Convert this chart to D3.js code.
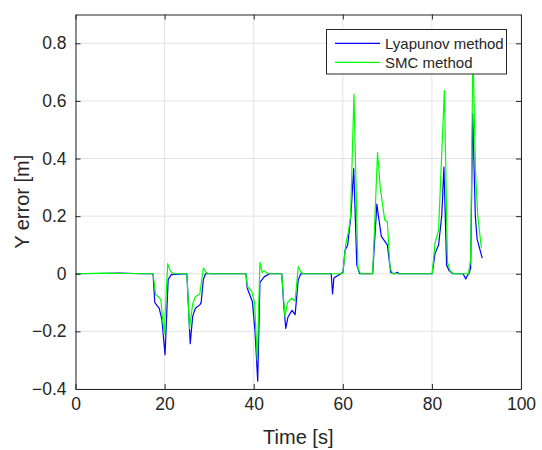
<!DOCTYPE html>
<html>
<head>
<meta charset="utf-8">
<script src="https://cdn.jsdelivr.net/npm/d3@7"></script>
<style>
  body { margin: 0; background: #fff; }
  svg { font-family: "Liberation Sans", Arial, sans-serif; }
</style>
</head>
<body>
<div id="chart"></div>
<script>
// time [s] and Y error [m]
const lyapTime = [0, 5, 10, 15, 17.4, 17.8, 18.8, 19.4, 20.1, 20.8, 21.5, 25.0, 25.75, 26.3, 26.9, 27.9, 28.2, 28.7, 29.2,
  38.25, 38.55, 39.7, 40.3, 40.9, 41.4, 42.4, 43.6, 46.3, 46.7, 47.2, 47.7, 48.6, 49.3, 50.0, 50.6,
  57.4, 57.7, 58.0, 59.5, 60.05, 60.5, 61.1, 61.8, 62.45, 63.15, 63.8, 66.7, 67.65, 68.0, 68.65, 69.6, 70.0, 70.75, 71.5, 72.3, 72.6,
  80.06, 80.7, 81.5, 82.2, 82.7, 83.3, 83.9, 84.7, 87.0, 87.6, 88.0, 88.3, 88.7, 89.15, 89.75, 90.15, 90.5, 91.3];
const lyapError = [0, 0.001, 0.002, 0, 0, -0.10, -0.12, -0.16, -0.281, -0.02, -0.003, 0, -0.243, -0.148, -0.12, -0.108, -0.10, -0.02, 0,
  0, -0.05, -0.096, -0.2, -0.373, -0.03, -0.01, 0, 0, -0.1, -0.19, -0.15, -0.127, -0.142, -0.02, 0,
  0, -0.07, -0.015, 0, 0.005, 0.081, 0.1, 0.2, 0.365, 0.029, 0, 0, 0.242, 0.2, 0.13, 0.109, 0.1, 0.005, 0, 0.005, 0,
  0, 0.07, 0.1, 0.2, 0.37, 0.03, 0.01, 0, 0, -0.018, -0.005, 0, 0.02, 0.555, 0.2, 0.12, 0.1, 0.054];

const smcTime = [0, 6, 12, 17.4, 18.0, 18.6, 19.15, 19.9, 20.7, 21.25, 21.9, 25.0, 25.6, 26.3, 26.9, 27.9, 28.7, 29.3, 30,
  38.25, 38.6, 39.55, 40.2, 40.8, 41.4, 41.9, 42.4, 43.2, 46.3, 47.0, 47.6, 48.5, 49.3, 50.0, 50.6, 51.2,
  60.0, 60.65, 61.3, 61.75, 62.5, 63.4, 64.0, 66.7, 67.8, 68.4, 69.4, 70.0, 70.6, 71.2,
  80.06, 80.7, 81.5, 82.8, 83.5, 84.1, 84.8, 88.2, 88.7, 89.2, 89.8, 90.3, 91.1];
const smcError = [0, 0.002, 0.001, 0, -0.073, -0.08, -0.09, -0.21, 0.035, 0.01, 0, 0, -0.19, -0.105, -0.08, -0.07, 0.02, 0.005, 0,
  0, -0.045, -0.06, -0.1, -0.3, 0.04, 0.005, 0.01, 0, 0, -0.148, -0.1, -0.085, -0.095, 0.025, 0.005, 0,
  0, 0.1, 0.15, 0.2, 0.624, 0.02, 0, 0, 0.421, 0.3, 0.187, 0.18, 0.02, 0,
  0, 0.106, 0.153, 0.636, 0.04, 0.01, 0, 0, 0.05, 0.78, 0.35, 0.2, 0.09];

const xTicks = [0, 20, 40, 60, 80, 100];
const yTicks = [-0.4, -0.2, 0, 0.2, 0.4, 0.6, 0.8];
const seriesNames = ["Lyapunov method", "SMC method"];
const seriesColors = ["#0000ff", "#00ff00"];

const width = 542, height = 450;
const margin = { left: 75.5, right: 21, top: 14.5, bottom: 61 };
const ink = "#262626";

const svg = d3.select("#chart").append("svg")
    .attr("width", width)
    .attr("height", height)
    .attr("viewBox", [0, 0, width, height]);

const xScale = d3.scaleLinear([0, 100], [margin.left, width - margin.right]);
const yScale = d3.scaleLinear([-0.4, 0.9], [height - margin.bottom, margin.top]);

// grid
svg.append("g")
    .selectAll("line.gx")
    .data(xTicks)
    .join("line")
    .attr("x1", d => xScale(d)).attr("x2", d => xScale(d))
    .attr("y1", margin.top).attr("y2", height - margin.bottom)
    .attr("stroke", "#e3e3e3").attr("stroke-width", 1);

svg.append("g")
    .selectAll("line.gy")
    .data(yTicks)
    .join("line")
    .attr("x1", margin.left).attr("x2", width - margin.right)
    .attr("y1", d => yScale(d)).attr("y2", d => yScale(d))
    .attr("stroke", "#e3e3e3").attr("stroke-width", 1);

svg.append("clipPath").attr("id", "clip")
    .append("rect")
    .attr("x", margin.left).attr("y", margin.top)
    .attr("width", width - margin.left - margin.right)
    .attr("height", height - margin.top - margin.bottom);

const lineGen = d3.line()
    .x(d => xScale(d.t))
    .y(d => yScale(d.v));

const series = [
  lyapTime.map((t, i) => ({ t: t, v: lyapError[i] })),
  smcTime.map((t, i) => ({ t: t, v: smcError[i] }))
];

series.forEach((s, i) => {
  svg.append("path")
      .attr("clip-path", "url(#clip)")
      .attr("fill", "none")
      .attr("stroke", seriesColors[i])
      .attr("stroke-width", 1.2)
      .attr("stroke-linejoin", "round")
      .attr("d", lineGen(s));
});

// axes with inward ticks on all sides
const fmt = d => d3.format("")(d);
const styleAxis = g => {
  g.select(".domain").attr("stroke", ink);
  g.selectAll(".tick line").attr("stroke", ink);
  g.selectAll(".tick text").attr("fill", ink).attr("font-size", 17.5).attr("font-family", "Liberation Sans, Arial, sans-serif");
};

svg.append("g")
    .attr("transform", `translate(0, ${height - margin.bottom})`)
    .call(d3.axisBottom(xScale).tickValues(xTicks).tickSizeInner(-5).tickSizeOuter(0).tickPadding(9).tickFormat(fmt))
    .call(styleAxis);

svg.append("g")
    .attr("transform", `translate(0, ${margin.top})`)
    .call(d3.axisTop(xScale).tickValues(xTicks).tickSizeInner(-5).tickSizeOuter(0).tickFormat(""))
    .call(styleAxis);

svg.append("g")
    .attr("transform", `translate(${margin.left}, 0)`)
    .call(d3.axisLeft(yScale).tickValues(yTicks).tickSizeInner(-5).tickSizeOuter(0).tickPadding(9).tickFormat(fmt))
    .call(styleAxis);

svg.append("g")
    .attr("transform", `translate(${width - margin.right}, 0)`)
    .call(d3.axisRight(yScale).tickValues(yTicks).tickSizeInner(-5).tickSizeOuter(0).tickFormat(""))
    .call(styleAxis);

// axis labels
svg.append("text")
    .attr("x", xScale(50))
    .attr("y", 444)
    .attr("text-anchor", "middle")
    .attr("fill", ink)
    .attr("font-size", 20)
    .text("Time [s]");

svg.append("text")
    .attr("transform", `translate(29, ${yScale(0.25)}) rotate(-90)`)
    .attr("text-anchor", "middle")
    .attr("fill", ink)
    .attr("font-size", 20)
    .text("Y error [m]");

// legend
const legend = svg.append("g").attr("transform", "translate(326.5, 29.5)");
legend.append("rect")
    .attr("width", 180).attr("height", 44.5)
    .attr("fill", "#fff").attr("stroke", ink).attr("stroke-width", 1);

seriesNames.forEach((name, i) => {
  const y = 13.8 + i * 19;
  legend.append("line")
      .attr("x1", 8.5).attr("x2", 53.5)
      .attr("y1", y).attr("y2", y)
      .attr("stroke", seriesColors[i]).attr("stroke-width", 1.2);
  legend.append("text")
      .attr("x", 58.5).attr("y", y)
      .attr("dy", "0.35em")
      .attr("fill", ink)
      .attr("font-size", 15)
      .text(name);
});
</script>
</body>
</html>
